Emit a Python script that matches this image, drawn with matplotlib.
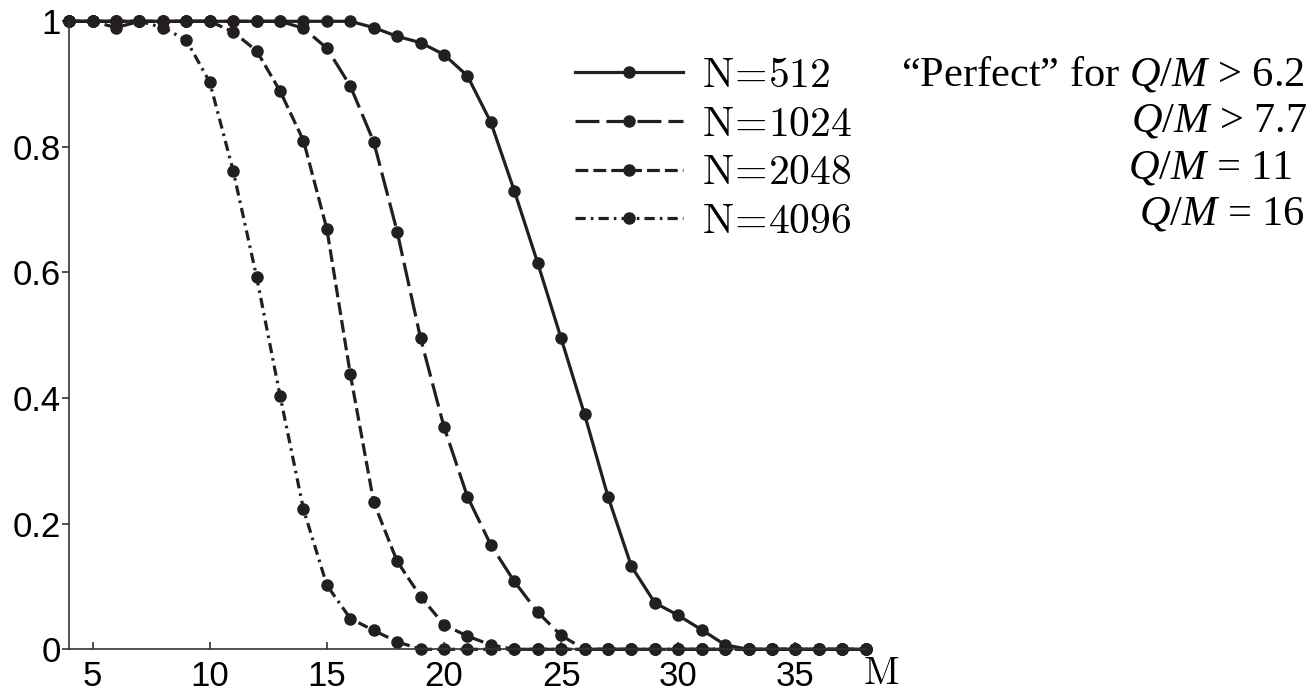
import matplotlib
matplotlib.use("Agg")
import matplotlib.pyplot as plt
import numpy as np

plt.rcParams['mathtext.fontset'] = 'cm'
plt.rcParams['mathtext.rm'] = 'Liberation Serif'
plt.rcParams['mathtext.it'] = 'Liberation Serif:italic'

M = list(range(4, 39))
n512 = [1]*13 + [0.99, 0.976, 0.966, 0.947, 0.913, 0.839, 0.730, 0.615, 0.495,
                 0.374, 0.243, 0.132, 0.074, 0.054, 0.031, 0.007] + [0]*6
n1024 = [1]*10 + [0.989, 0.957, 0.897, 0.808, 0.665, 0.495, 0.354, 0.243, 0.166,
                  0.108, 0.059, 0.022] + [0]*13
n2048 = [1, 1, 0.99, 1, 1, 1, 1, 0.983, 0.953, 0.889, 0.810, 0.669, 0.438, 0.234,
         0.140, 0.084, 0.039, 0.021, 0.007] + [0]*16
n4096 = [1, 1, 1, 1, 0.99, 0.97, 0.903, 0.762, 0.593, 0.404, 0.223, 0.102, 0.049,
         0.030, 0.012] + [0]*20
labels = ['N=512', 'N=1024', 'N=2048', 'N=4096']
notes = ['\u201cPerfect\u201d for $\\mathit{Q/M}$ > 6.2', '$\\mathit{Q/M}$ > 7.7',
         '$\\mathit{Q/M}$ = 11', '$\\mathit{Q/M}$ = $\\mathit{1}$6']
yticks = [0, 0.2, 0.4, 0.6, 0.8, 1]
yticklabels = ['0', '0.2', '0.4', '0.6', '0.8', '1']
xticks = [5, 10, 15, 20, 25, 30, 35]

col = '#231f20'
W, H = 1312, 693
fig = plt.figure(figsize=(W/100, H/100), dpi=100)
ax = fig.add_axes([69.2/W, 1-649.3/H, (865.7-69.2)/W, (649.3-21.3)/H])

lw = 2.3
styles = ['-', (0, (7.5, 2.2)), (0, (4, 1.6)), (0, (3.2, 1.6, 0.8, 1.6))]
series = [n512, n1024, n2048, n4096]
for s, ls, lab in zip(series, styles, labels):
    a, b = lab.split('=')
    ax.plot(M, s, linestyle=ls, color=col, lw=lw, marker='o', ms=8,
            mfc=col, mec=col, clip_on=False,
            label='$\\mathrm{%s}\\!=\\!\\mathrm{%s}$' % (a, b))

ax.set_xlim(4, 38)
ax.set_ylim(0, 1)
ax.set_xticks(xticks)
ax.set_yticks(yticks)
ax.set_yticklabels(yticklabels)
for sp in ['top', 'right']:
    ax.spines[sp].set_visible(False)
for sp in ['left', 'bottom']:
    ax.spines[sp].set_linewidth(1.2)
    ax.spines[sp].set_color('#333333')
ax.tick_params(axis='y', direction='out', length=5, width=1.2, pad=1,
               labelsize=25, color='#333333')
ax.tick_params(axis='x', direction='in', length=5, width=1.2, pad=8,
               labelsize=25, color='#333333')
for t in ax.get_xticklabels() + ax.get_yticklabels():
    t.set_fontfamily('Liberation Sans')

leg = ax.legend(loc='upper left', bbox_to_anchor=(575/W, 1-54/H),
                bbox_transform=fig.transFigure, frameon=False, fontsize=30,
                handlelength=2.6, handletextpad=0.45, labelspacing=0.16,
                borderaxespad=0, borderpad=0, numpoints=1, markerscale=1.0)

ys = [85, 131.7, 178.3, 224]
xs = [1305, 1307, 1293, 1305]
for x, y, t in zip(xs, ys, notes):
    fig.text(x/W, 1-y/H, t, fontsize=30.5, family='Liberation Serif',
             math_fontfamily='custom', ha='right', va='baseline')

fig.text(881/W, 1-684/H, '$\\mathrm{M}$', fontsize=28, ha='center', va='baseline')

fig.savefig('out.png', dpi=100)
